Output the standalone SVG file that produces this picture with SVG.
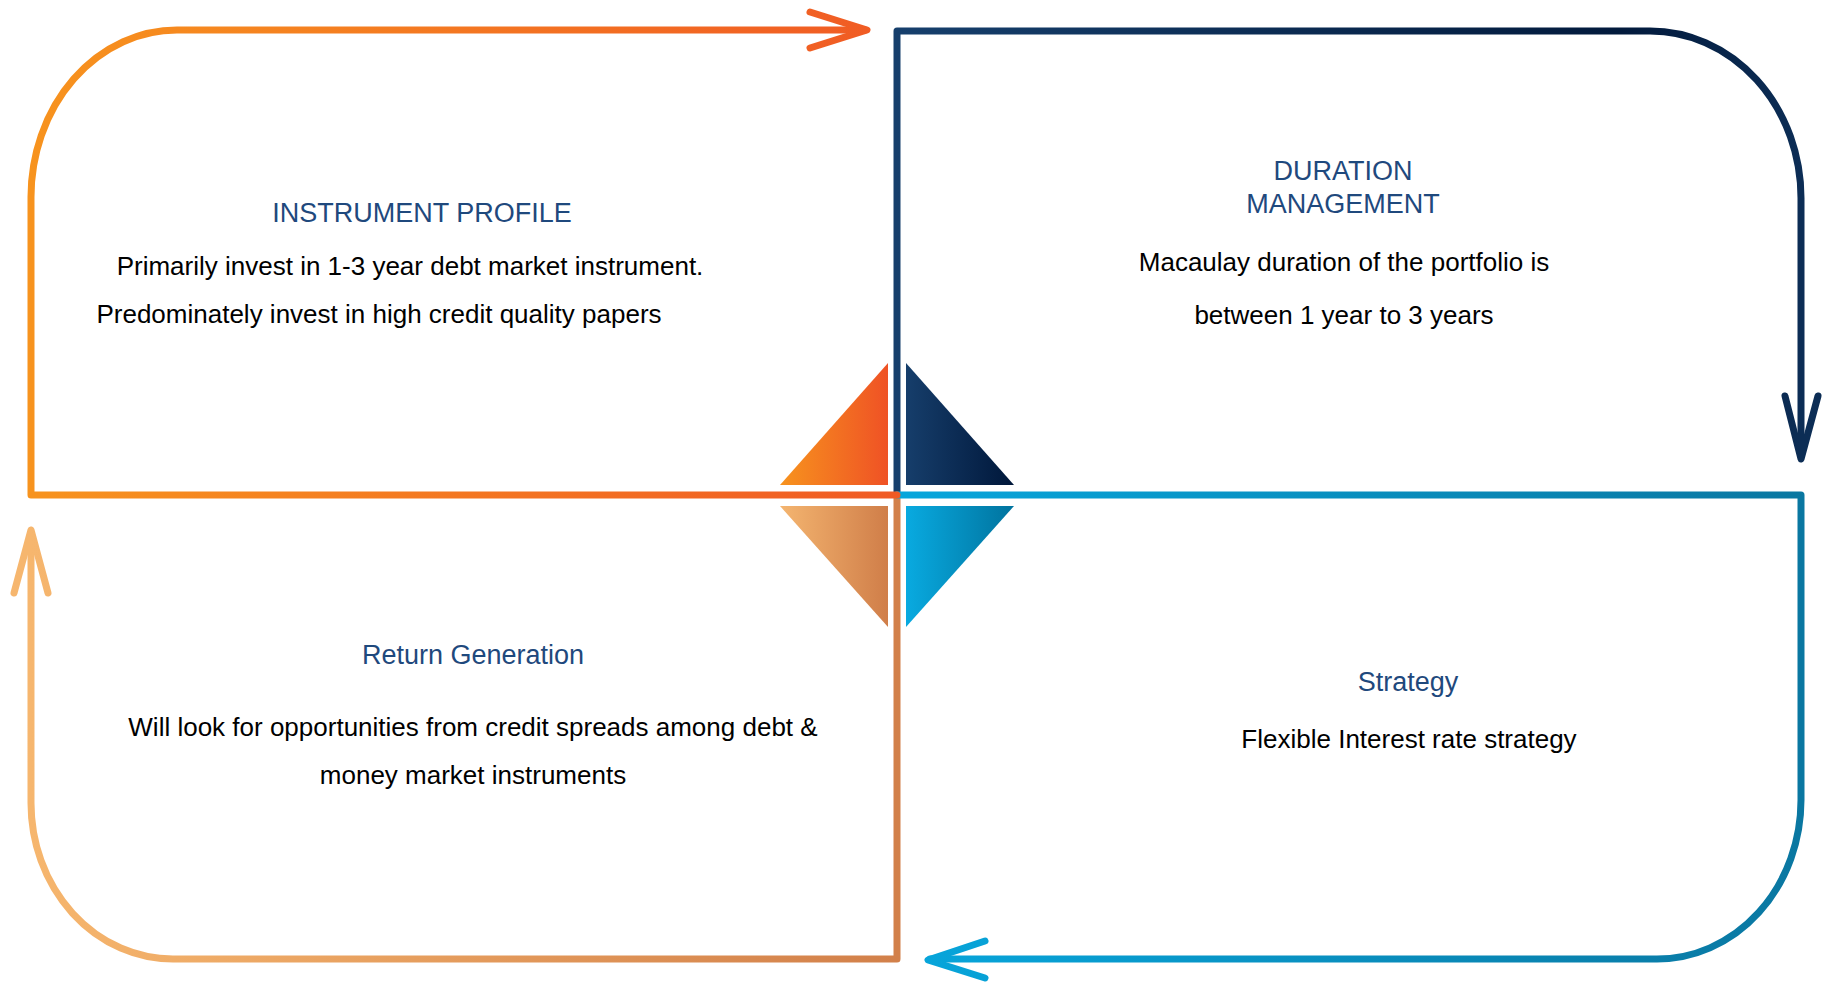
<svg xmlns="http://www.w3.org/2000/svg" width="1827" height="982" viewBox="0 0 1827 982">
  <defs>
    <!-- stroke gradients, laid out across each quadrant -->
    <linearGradient id="strokeOrange" gradientUnits="userSpaceOnUse" x1="31" y1="0" x2="897" y2="0">
      <stop offset="0" stop-color="#F7931E"/>
      <stop offset="1" stop-color="#F05A24"/>
    </linearGradient>
    <linearGradient id="strokeNavy" gradientUnits="userSpaceOnUse" x1="897" y1="0" x2="1801" y2="0">
      <stop offset="0" stop-color="#163F6C"/>
      <stop offset="0.8" stop-color="#021A3C"/>
      <stop offset="1" stop-color="#0C2D55"/>
    </linearGradient>
    <linearGradient id="strokeBlue" gradientUnits="userSpaceOnUse" x1="897" y1="0" x2="1801" y2="0">
      <stop offset="0" stop-color="#07A6DC"/>
      <stop offset="1" stop-color="#0A77A1"/>
    </linearGradient>
    <linearGradient id="strokeTan" gradientUnits="userSpaceOnUse" x1="31" y1="0" x2="897" y2="0">
      <stop offset="0" stop-color="#F6B66E"/>
      <stop offset="1" stop-color="#D2804A"/>
    </linearGradient>
    <!-- fills for the four centre triangles -->
    <linearGradient id="fillOrange" x1="0" y1="0" x2="1" y2="0">
      <stop offset="0" stop-color="#F7931E"/>
      <stop offset="1" stop-color="#EF5225"/>
    </linearGradient>
    <linearGradient id="fillNavy" x1="0" y1="0" x2="1" y2="0">
      <stop offset="0" stop-color="#163E6B"/>
      <stop offset="1" stop-color="#00173A"/>
    </linearGradient>
    <linearGradient id="fillTan" x1="0" y1="0" x2="1" y2="0">
      <stop offset="0" stop-color="#F4B570"/>
      <stop offset="1" stop-color="#D07E49"/>
    </linearGradient>
    <linearGradient id="fillBlue" x1="0" y1="0" x2="1" y2="0">
      <stop offset="0" stop-color="#09AAE0"/>
      <stop offset="1" stop-color="#00739E"/>
    </linearGradient>
  </defs>
  <style>
    .loop { fill: none; stroke-width: 7; stroke-linecap: round; stroke-linejoin: round; }
    .title { font-family: "Liberation Sans", Arial, sans-serif; font-size: 27px; fill: #1F497D; text-anchor: middle; }
    .body { font-family: "Liberation Sans", Arial, sans-serif; font-size: 26px; fill: #000000; text-anchor: middle; }
  </style>

  <rect width="1827" height="982" fill="#FFFFFF"/>

  <!-- centre triangles -->
  <g id="centre-mark">
    <polygon points="780,485 888,363 888,485" fill="url(#fillOrange)"/>
    <polygon points="906,363 906,485 1014,485" fill="url(#fillNavy)"/>
    <polygon points="780,506 888,506 888,627" fill="url(#fillTan)"/>
    <polygon points="906,506 1014,506 906,627" fill="url(#fillBlue)"/>
  </g>

  <!-- the four looping arrows -->
  <g id="connectors">
    <g stroke="url(#strokeNavy)" class="loop">
      <path class="loop" d="M897 495 V31 H1650 A151 167 0 0 1 1801 198 V456"/>
      <path class="loop" d="M1785 396 L1801 459 L1818 396"/>
    </g>
    <g stroke="url(#strokeTan)" class="loop">
      <path class="loop" d="M897 495 V959 H173 A142 156 0 0 1 31 803 V533"/>
      <path class="loop" d="M14 593 L31 530 L48 593"/>
    </g>
    <g stroke="url(#strokeBlue)" class="loop">
      <path class="loop" d="M897 495 H1801 V800 A144 159 0 0 1 1657 959 H930"/>
      <path class="loop" d="M985 941 L928 960 L985 978"/>
    </g>
    <g stroke="url(#strokeOrange)" class="loop">
      <path class="loop" d="M897 495 H31 V197 A146 167 0 0 1 177 30 H865"/>
      <path class="loop" d="M810 12 L867 30 L810 48"/>
    </g>
  </g>

  <g id="instrument-profile">
    <text class="title" x="422" y="222">INSTRUMENT PROFILE</text>
    <text class="body" x="410" y="275">Primarily invest in 1-3 year debt market instrument.</text>
    <text class="body" x="379" y="323">Predominately invest in high credit quality papers</text>
  </g>

  <g id="duration-management">
    <text class="title" x="1343" y="180">DURATION</text>
    <text class="title" x="1343" y="213">MANAGEMENT</text>
    <text class="body" x="1344" y="271">Macaulay duration of the portfolio is</text>
    <text class="body" x="1344" y="324">between 1 year to 3 years</text>
  </g>

  <g id="return-generation">
    <text class="title" x="473" y="664">Return Generation</text>
    <text class="body" x="473" y="736">Will look for opportunities from credit spreads among debt &amp;</text>
    <text class="body" x="473" y="784">money market instruments</text>
  </g>

  <g id="strategy">
    <text class="title" x="1408" y="691">Strategy</text>
    <text class="body" x="1409" y="748">Flexible Interest rate strategy</text>
  </g>
</svg>
